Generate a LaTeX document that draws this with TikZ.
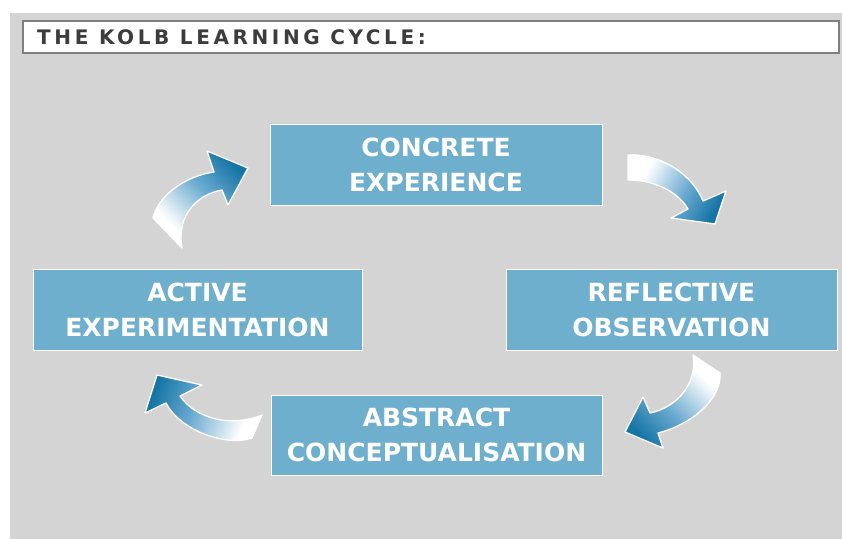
\documentclass[tikz,border=0pt]{standalone}
\usepackage{fontspec}
\newfontfamily\boxfont{DejaVu Sans}
\newfontfamily\titlefont{DejaVu Sans}[LetterSpace=18]
\definecolor{bg}{HTML}{D4D4D4}
\definecolor{boxblue}{HTML}{6FAFCE}
\definecolor{arrowblue}{HTML}{1675A5}
\definecolor{arrowmid}{HTML}{6AAAD0}
\definecolor{titlegrey}{HTML}{3C3C3C}
\definecolor{titleborder}{HTML}{7F7F7F}
\pgfdeclareverticalshading{kolbshade}{100bp}{color(0bp)=(white); color(30bp)=(white); color(55bp)=(arrowmid); color(75bp)=(arrowblue); color(100bp)=(arrowblue)}
\tikzset{
  stage/.style={draw=white, line width=1pt, fill=boxblue, text=white,
    font={\boxfont\bfseries\fontsize{25pt}{35pt}\selectfont}, align=center,
    minimum width=331pt, minimum height=81pt, inner sep=0pt},
  kolbarrow/.style={shading=kolbshade, draw=white, line width=1.3pt, line join=round}
}
\begin{document}
\begin{tikzpicture}[x=1pt,y=-1pt]
\useasboundingbox (0,0) rectangle (842,539);
\fill[white] (0,0) rectangle (842,539);
\fill[bg] (10,13) rectangle (842,539);
% title
\node[draw=titleborder, line width=1.5pt, fill=white, minimum width=816pt, minimum height=32pt, anchor=north west, inner sep=0pt] (titlebox) at (22,20) {};
\node[anchor=base west, inner sep=0pt, text=titlegrey, font={\titlefont\bfseries\fontsize{20pt}{22pt}\selectfont}] (title) at (37,44) {THE KOLB LEARNING CYCLE:};
% stages
\node[stage, minimum width=332pt] (ce) at (436,164.5) {CONCRETE\\EXPERIENCE};
\node[stage] (ro) at (671.5,309.5) {REFLECTIVE\\OBSERVATION};
\node[stage, minimum height=80pt] (ac) at (436.5,435) {ABSTRACT\\CONCEPTUALISATION};
\node[stage, minimum width=329pt] (ae) at (197.5,309.5) {ACTIVE\\EXPERIMENTATION};
% arrows
\shadedraw[kolbarrow, shading angle=-45] (153,218) .. controls (158,196) and (185,176) .. (214,172) -- (207,151) -- (248,168) -- (228,205) -- (222,190) .. controls (198,194) and (176,215) .. (182,248) -- cycle;
\shadedraw[kolbarrow, shading angle=-119] (628,155) .. controls (655,153) and (690,170) .. (703,201) -- (726,191) -- (715,224) -- (671,218) -- (688,209) .. controls (678,192) and (655,180) .. (628,180) -- cycle;
\shadedraw[kolbarrow, shading angle=135] (693,355) -- (720,373) .. controls (722,400) and (690,425) .. (658,433) -- (663,448) -- (625,432) -- (643,397) -- (650,413) .. controls (675,408) and (698,385) .. cycle;
\shadedraw[kolbarrow, shading angle=70] (180,396) -- (202,385) -- (157,375) -- (145,413) -- (166,403) .. controls (180,430) and (225,447) .. (252,438) -- (262,415) .. controls (230,428) and (195,418) .. cycle;
\end{tikzpicture}
\end{document}
